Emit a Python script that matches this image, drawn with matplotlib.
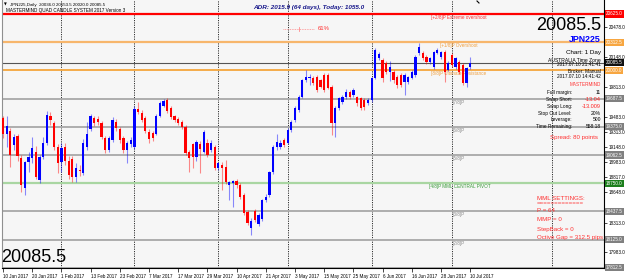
import numpy as np
import pandas as pd
import matplotlib
matplotlib.use("Agg")
import matplotlib.pyplot as plt
import matplotlib.transforms as mtrans
from matplotlib.lines import Line2D

plt.rcParams['font.family'] = ['Liberation Sans', 'DejaVu Sans']

W, H = 625, 279

#####################################################################
# JPN225 daily bars (10 Jan 2017 .. 10 Jul 2017)
opens = [19470, 19290, 19330, 19170, 19270, 19030, 18700, 18990, 19030, 19100,
         18790, 19040, 19190, 19495, 19420, 19150, 18990, 19150, 19000, 19020,
         18820, 18900, 18860, 19150, 19350, 19470, 19460, 19420, 19250, 19120,
         19230, 19430, 19350, 19250, 19120, 19180, 19150, 19570, 19530, 19470,
         19320, 19310, 19300, 19500, 19610, 19670, 19580, 19490, 19460, 19430,
         19370, 19100, 19180, 19040, 19180, 19095, 19200, 19120, 19150, 18920,
         18950, 18930, 18730, 18750, 18770, 18730, 18620, 18430, 18250, 18440,
         18300, 18350, 18560, 18620, 18870, 19150, 19150, 19230, 19200, 19340,
         19450, 19560, 19705, 19890, 19920, 19920, 19925, 19890, 19950, 19950,
         19815, 19420, 19580, 19650, 19700, 19760, 19730, 19700, 19690, 19670,
         19640, 19670, 19915, 20135, 20115, 20080, 19980, 19980, 19925, 19950,
         19870, 19870, 19915, 19950, 20190, 20190, 20150, 20090, 20040, 20195,
         20150, 20205, 20005, 20170, 20040, 20090, 20060, 19860, 20036]
highs = [19500, 19500, 19360, 19300, 19290, 19060, 19000, 19100, 19260, 19160,
         19060, 19260, 19550, 19540, 19440, 19180, 19200, 19190, 19050, 19050,
         18970, 18950, 19240, 19430, 19520, 19500, 19490, 19440, 19270, 19270,
         19480, 19460, 19370, 19270, 19220, 19260, 19600, 19650, 19560, 19490,
         19350, 19330, 19520, 19660, 19680, 19690, 19600, 19510, 19480, 19450,
         19390, 19120, 19200, 19230, 19220, 19340, 19240, 19230, 19170, 18990,
         18980, 19010, 18780, 18790, 18800, 18750, 18640, 18450, 18360, 18460,
         18420, 18580, 18630, 18890, 19170, 19300, 19230, 19250, 19360, 19450,
         19600, 19730, 19900, 20005, 19960, 19940, 19950, 19910, 19970, 19970,
         19840, 19600, 19710, 19730, 19790, 19780, 19800, 19720, 19710, 19690,
         19690, 19930, 20250, 20205, 20140, 20100, 20100, 20000, 19945, 19970,
         19970, 19940, 20000, 20170, 20300, 20210, 20170, 20150, 20220, 20250,
         20220, 20230, 20100, 20190, 20150, 20110, 20080, 20040, 20153.5]
lows = [19250, 19150, 18930, 19120, 19000, 18650, 18620, 18870, 18975, 18800,
        18750, 19020, 19170, 19400, 19120, 18860, 18870, 18950, 18800, 18760,
        18760, 18830, 18840, 19120, 19330, 19380, 19400, 19240, 19080, 19100,
        19210, 19330, 19200, 19080, 18975, 19150, 19130, 19520, 19430, 19310,
        19200, 19220, 19280, 19480, 19590, 19530, 19460, 19430, 19400, 19350,
        19060, 18875, 18920, 19000, 18860, 19080, 19040, 19100, 18900, 18900,
        18675, 18740, 18560, 18490, 18700, 18580, 18400, 18290, 18180, 18320,
        18280, 18330, 18540, 18600, 18850, 19120, 19130, 19150, 19180, 19320,
        19430, 19540, 19690, 19870, 19840, 19840, 19760, 19800, 19760, 19790,
        19285, 19260, 19560, 19630, 19680, 19680, 19710, 19600, 19560, 19560,
        19620, 19650, 19900, 20110, 19870, 19960, 19880, 19860, 19810, 19820,
        19730, 19850, 19900, 19930, 20170, 20110, 20070, 20070, 20020, 20180,
        20130, 19870, 19990, 20040, 20020, 19960, 19840, 19815, 20020]
closes = [19290, 19380, 19060, 19260, 19050, 18730, 18990, 19040, 19140, 18820,
          19040, 19200, 19505, 19450, 19150, 18975, 19140, 19000, 18840, 18820,
          18920, 18880, 19190, 19300, 19490, 19420, 19430, 19260, 19120, 19250,
          19450, 19360, 19230, 19120, 19190, 19230, 19570, 19540, 19450, 19330,
          19240, 19250, 19500, 19640, 19660, 19550, 19480, 19450, 19420, 19370,
          19090, 19030, 19040, 19210, 19130, 19317, 19060, 19200, 18920, 18975,
          18920, 18760, 18760, 18770, 18730, 18600, 18420, 18310, 18330, 18340,
          18400, 18560, 18600, 18870, 19150, 19210, 19200, 19170, 19340, 19430,
          19580, 19705, 19890, 19925, 19930, 19860, 19780, 19820, 19780, 19810,
          19420, 19580, 19690, 19710, 19760, 19700, 19780, 19640, 19580, 19590,
          19670, 19915, 20225, 20180, 19915, 19980, 20040, 19890, 19840, 19840,
          19950, 19925, 19980, 20150, 20255, 20135, 20090, 20135, 20205, 20225,
          20205, 19980, 20080, 20060, 20135, 19980, 19860, 20025, 20085.5]

bar_dates = pd.bdate_range("2017-01-10", "2017-07-10").drop(pd.Timestamp("2017-04-14"))

# Murrey math lines
mml_values = [20625.0, 20312.5, 20000.0, 19687.5, 19375.0, 19062.5, 18750.0, 18437.5, 18125.0, 17812.5]
mml_names = ['[+2/8]P Extreme overshoot', '[+1/8]P Overshoot', '[8/8]P Ultimate Resistance',
             '[7/8]P', '[6/8]P', '[5/8]P', '[4/8]P MML CENTRAL PIVOT', '[3/8]P', '[2/8]P', '']
mml_line_col = ['#ff0000', '#f7b66c', '#f4a63c', '#a8a8a8', '#a8a8a8', '#a8a8a8',
                '#a9d6a2', '#a8a8a8', '#a8a8a8', '#a8a8a8']
mml_text_col = ['#ff3030', '#f0a040', '#f0a040', '#8c8c8c', '#8c8c8c', '#8c8c8c',
                '#3a9a3a', '#8c8c8c', '#8c8c8c', '#8c8c8c']
mml_box_col = ['#ff0000', '#f7a640', '#f7a640', '#808080', '#808080', '#808080',
               '#1c7f1c', '#808080', '#808080', '#808080']
mml_text_x = [431, 440, 431, 453, 453, 453, 429, 453, 453, 453]

price_ticks = [17983, 18313, 18648, 18817, 18983, 19148, 19313, 19483,
               19813, 20148, 20478]
last_price = 20085.5

#####################################################################
def bar_x(px):
    # pixel column -> bar index
    return (px - 3) / 3.65

def fx(px):
    return px / W

def fy(py):
    return 1 - py / H

n = len(closes)
idx = np.arange(n)
o = np.array(opens); c = np.array(closes); hi = np.array(highs); lo = np.array(lows)
up = c >= o

fig = plt.figure(figsize=(W / 100, H / 100), dpi=100)
ax = fig.add_axes([2 / W, 11 / H, 602 / W, 268 / H])
ax.set_facecolor('#f6f6f6')
ax.set_xlim(bar_x(2), bar_x(604))
ax.set_ylim(17812.5 - 2, 20780)

# month separators
month_starts = [i for i in range(1, n) if bar_dates[i].month != bar_dates[i - 1].month]
for m in month_starts + [bar_x(552)]:
    ax.axvline(m, color='#303030', lw=0.7, ls=(0, (1.2, 1.2)), zorder=1)

# MML levels
for v, col in zip(mml_values, mml_line_col):
    lw = 1.6 if col in ('#ff0000', '#a9d6a2', '#f7b66c') else 1.3
    ax.axhline(v, color=col, lw=lw, zorder=2)
ax.axhline(last_price, color='#555555', lw=0.8, zorder=2)

below = mtrans.offset_copy(ax.transData, fig=fig, y=-1.0, units='dots')
for v, name, col, xp in zip(mml_values, mml_names, mml_text_col, mml_text_x):
    if name:
        ax.text(bar_x(xp), v, name, color=col, fontsize=3.3, va='top', ha='left',
                transform=below, zorder=3)

# candles
colors = np.where(up, '#0000ff', '#ff0000')
ax.vlines(idx, lo, hi, colors=colors, lw=0.8, alpha=0.45, zorder=4)
body_lo = np.minimum(o, c)
body_h = np.maximum(np.abs(c - o), 8)
ax.bar(idx, body_h, bottom=body_lo, width=0.62, color=colors, lw=0, zorder=5)

# axes and ticks
tick_idx = list(range(0, n, 8))
ax.set_xticks(tick_idx)
ax.set_xticklabels([f"{bar_dates[i].day} {bar_dates[i].strftime('%b %Y')}" for i in tick_idx],
                   ha='left', fontsize=3.3)
ax.tick_params(axis='x', length=3, width=0.5, pad=1.5, direction='out')
ax.yaxis.tick_right()
ax.set_yticks(price_ticks)
ax.set_yticklabels([f"{t:.1f}" for t in price_ticks], fontsize=3.3)
ax.tick_params(axis='y', length=2, width=0.5, pad=1.5)
for s in ['right', 'bottom']:
    ax.spines[s].set_color('black')
    ax.spines[s].set_linewidth(0.8)
ax.spines['left'].set_color('#909090')
ax.spines['top'].set_visible(False)

# price boxes on the right scale
side = mtrans.blended_transform_factory(ax.transAxes, ax.transData)
for v, bc in zip(mml_values, mml_box_col):
    ax.text(1.003, v, f"{v:.1f}", transform=side, fontsize=3.3, color='white', va='center',
            ha='left', clip_on=False, zorder=6,
            bbox=dict(boxstyle='square,pad=0.25', fc=bc, ec='none'))
ax.text(1.003, last_price, f"{last_price:.1f}", transform=side, fontsize=3.3, color='white',
        va='center', ha='left', clip_on=False, zorder=7,
        bbox=dict(boxstyle='square,pad=0.25', fc='#111111', ec='none'))

# header texts
fig.text(fx(4), fy(5), "\u25bc", fontsize=2.6, va='center', ha='left', family='DejaVu Sans')
fig.text(fx(10), fy(5), f"JPN225,Daily  {opens[-1]:.1f} {highs[-1]:.1f} {lows[-1]:.1f} {closes[-1]:.1f}",
         fontsize=3.2, va='center', ha='left')
fig.text(fx(6), fy(10.5), "MASTERMIND QUAD CANDLE SYSTEM 2017 Version 3", fontsize=3.3,
         va='center', ha='left')
fig.text(fx(253), fy(7), "ADR: 2015.9 (64 days), Today: 1055.0", fontsize=4.6,
         color='#1a1a8c', style='italic', weight='bold', va='center', ha='left')
fig.add_artist(Line2D([fx(283), fx(314)], [fy(29), fy(29)], color='#ff8c8c', lw=0.6,
                      ls=(0, (1, 1))))
fig.add_artist(Line2D([fx(299), fx(299)], [fy(27), fy(31)], color='#ff8c8c', lw=0.6))
fig.text(fx(318), fy(29), "61%", fontsize=4.3, color='#ff3030', va='center', ha='left')
fig.add_artist(Line2D([fx(477), fx(479)], [fy(1), fy(3)], color='black', lw=0.8))

# right info panel
fig.text(fx(601), fy(25), f"{last_price:.1f}", fontsize=13, va='center', ha='right')
fig.text(fx(601), fy(39.5), "JPN225", fontsize=6.3, weight='bold', color='#0000ff',
         va='center', ha='right')
fig.text(fx(601), fy(52.5), "Chart: 1 Day", fontsize=4.5, va='center', ha='right')
fig.text(fx(601), fy(60), "AUSTRALIA Time Zone", fontsize=3.6, va='center', ha='right')
fig.text(fx(601), fy(64.5), "2017.07.10 21:41:41", fontsize=3.4, va='center', ha='right')
fig.text(fx(601), fy(71.5), "Broker: Manual", fontsize=3.4, va='center', ha='right')
fig.text(fx(601), fy(76.5), "2017.07.10 14:41:42", fontsize=3.4, va='center', ha='right')
fig.text(fx(601), fy(84), "MASTERMIND", fontsize=3.3, color='#ff3030', va='center', ha='right')
info_rows = [("Full margin:", "11", 'black'), ("Swap Short:", "-13.04", '#ff2020'),
             ("Swap Long:", "-13.009", '#ff2020'), ("Stop Out Level:", "20%", 'black'),
             ("Leverage:", "500", 'black'), ("Time Remaining:", "558:18", 'black')]
for k, (lab, val, vc) in enumerate(info_rows):
    yy = 92.7 + k * 6.8
    fig.text(fx(572), fy(yy), lab, fontsize=3.4, va='center', ha='right')
    fig.text(fx(601), fy(yy), val, fontsize=4.0 if vc != 'black' else 3.6, color=vc,
             va='center', ha='right')
fig.text(fx(598), fy(137.5), "Spread: 80 points", fontsize=4.4, color='#ff3030',
         va='center', ha='right')

# MML settings block
mml_lines = ["MML SETTINGS:", "=============", "P = 64", "MMP = 0", "StepBack = 0",
             "Octive Gap = 312.5 pips"]
mml_ys = [198, 204, 210.5, 219.5, 229, 238]
for txt, yy in zip(mml_lines, mml_ys):
    fig.text(fx(537), fy(yy), txt, fontsize=4.4, color='#ff3030', va='center', ha='left')

fig.text(fx(1), fy(258), f"{last_price:.1f}", fontsize=13, va='center', ha='left')

fig.savefig("out.png", dpi=100, facecolor='white')
